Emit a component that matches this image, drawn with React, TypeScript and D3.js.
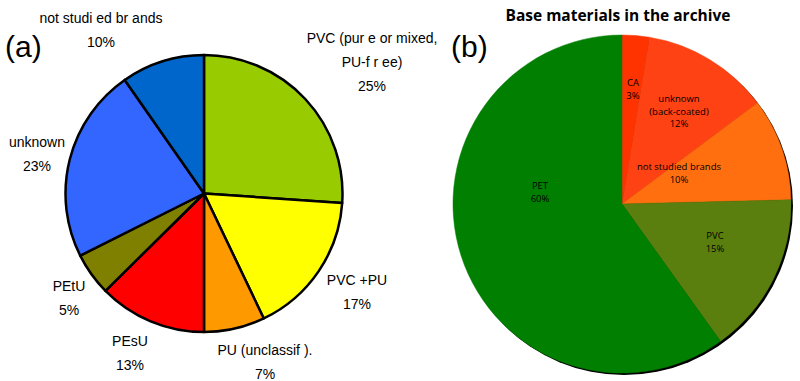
import React from "react";
import * as d3 from "d3";

const catsA = ["PVC (pure or mixed, PU-free)", "PVC +PU", "PU (unclassif).", "PEsU", "PEtU", "unknown", "not studied brands"];
const valsA = [26.1, 16.8, 7.1, 12.6, 5.0, 22.7, 9.7];
const pctA = ["25%", "17%", "7%", "13%", "5%", "23%", "10%"];
const colorsA = ["#99CC00", "#FFFF00", "#FF9900", "#FF0000", "#808000", "#3366FF", "#0066CC"];
const labelLinesA = [
  ["PVC (pur e or mixed,", "PU-f r ee)"],
  ["PVC +PU"],
  ["PU (unclassif )."],
  ["PEsU"],
  ["PEtU"],
  ["unknown"],
  ["not studi ed br ands"],
];
const labelPosA: [number, number][] = [
  [372, 38], [357, 280], [265, 350], [130, 341], [69, 286], [37, 142], [101, 18],
];

const catsB = ["CA", "unknown (back-coated)", "not studied brands", "PVC", "PET"];
const valsB = [2.6, 12.2, 9.8, 15.5, 59.9];
const pctB = ["3%", "12%", "10%", "15%", "60%"];
const colorsB = ["#FF3300", "#FF4213", "#FF6F10", "#5B7F0F", "#007F00"];
const labelLinesB = [["CA"], ["unknown", "(back-coated)"], ["not studied brands"], ["PVC"], ["PET"]];
const labelPosB: [number, number][] = [[633, 83], [679, 99], [679, 167], [715, 236], [540, 186]];

export default function App() {
  const pie = d3.pie<number>().sort(null).value((d) => d);
  const cxA = 204, cyA = 193.5, rA = 138.5;
  const cxB = 622, cyB = 204, rB = 169;
  const arcA = d3.arc<d3.PieArcDatum<number>>().innerRadius(0).outerRadius(rA);
  const arcB = d3.arc<d3.PieArcDatum<number>>().innerRadius(0).outerRadius(rB);
  const arcsA = pie(valsA);
  const arcsB = pie(valsB);
  const fA = "'Liberation Sans', Arial, sans-serif";
  const fB = "'Open Sans', 'DejaVu Sans', sans-serif";
  return (
    <svg width={800} height={381} style={{ position: "absolute", left: 0, top: 0, background: "#fff" }}>
      <rect width={800} height={381} fill="#fff" />
      <g transform={`translate(${cxA},${cyA})`}>
        {arcsA.map((a, i) => (
          <path key={catsA[i]} d={arcA(a) as string} fill={colorsA[i]} stroke="#000" strokeWidth={2.5} strokeLinejoin="round" />
        ))}
      </g>
      {labelLinesA.map((lines, i) => (
        <text key={"la" + i} x={labelPosA[i][0]} y={labelPosA[i][1]} textAnchor="middle" fontFamily={fA} fontSize={14} fill="#000">
          {lines.map((l, j) => (
            <tspan key={j} x={labelPosA[i][0]} dy={j === 0 ? "0.35em" : 24}>{l}</tspan>
          ))}
          <tspan x={labelPosA[i][0]} dy={24}>{pctA[i]}</tspan>
        </text>
      ))}
      <text x={5} y={57} fontFamily={fA} fontSize={30} fontWeight={300} fill="#000">(a)</text>

      <text x={618} y={21} textAnchor="middle" fontFamily={fB} fontSize={15.5} fontWeight={700} fill="#000">Base materials in the archive</text>
      <text x={451} y={57} fontFamily={fA} fontSize={30} fill="#000">(b)</text>
      <circle cx={cxB + 2} cy={cyB + 2} r={rB} fill="#000" />
      <g transform={`translate(${cxB},${cyB})`}>
        {arcsB.map((a, i) => (
          <path key={catsB[i]} d={arcB(a) as string} fill={colorsB[i]} stroke={colorsB[i]} strokeWidth={0.5} />
        ))}
      </g>
      {labelLinesB.map((lines, i) => (
        <text key={"lb" + i} x={labelPosB[i][0]} y={labelPosB[i][1]} textAnchor="middle" fontFamily={fB} fontSize={9.5} fill="#000">
          {lines.map((l, j) => (
            <tspan key={j} x={labelPosB[i][0]} dy={j === 0 ? "0.35em" : 12.5}>{l}</tspan>
          ))}
          <tspan x={labelPosB[i][0]} dy={12.5}>{pctB[i]}</tspan>
        </text>
      ))}
    </svg>
  );
}
